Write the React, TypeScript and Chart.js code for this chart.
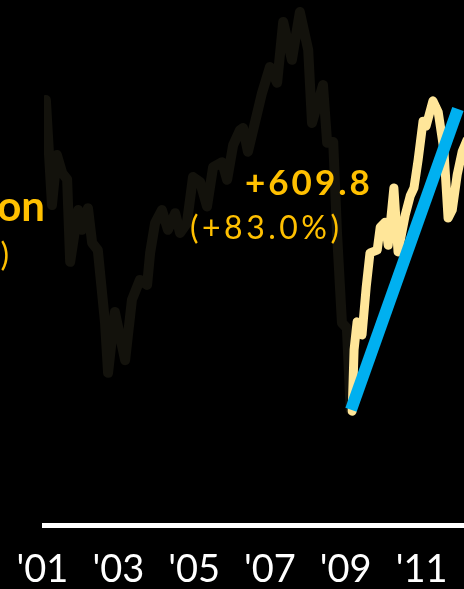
import React, { useEffect, useRef } from "react";
import { Chart, registerables } from "chart.js";

Chart.register(...registerables);

// Index level 2001–2009 (dark line)
const preYears = [
  2001.09, 2001.25, 2001.38, 2001.52, 2001.65, 2001.73, 2001.94, 2002.04, 2002.2, 2002.31,
  2002.46, 2002.65, 2002.73, 2002.91, 2003.18, 2003.36, 2003.57, 2003.76, 2003.84, 2003.97,
  2004.15, 2004.31, 2004.5, 2004.63, 2004.81, 2004.97, 2005.16, 2005.34, 2005.5, 2005.74,
  2005.87, 2006.03, 2006.21, 2006.29, 2006.42, 2006.79, 2007.0, 2007.19, 2007.35, 2007.58,
  2007.79, 2008.01, 2008.11, 2008.4, 2008.51, 2008.67, 2008.77, 2008.9, 2009.03, 2009.13,
];
const preValues = [
  1366, 1133, 1244, 1204, 1190, 1007, 1122, 1078, 1126, 1049,
  1033, 872, 761, 896, 789, 923, 967, 956, 1027, 1093,
  1122, 1078, 1115, 1071, 1093, 1195, 1184, 1130, 1217, 1228,
  1189, 1266, 1299, 1304, 1251, 1381, 1439, 1404, 1539, 1455,
  1561, 1477, 1315, 1399, 1271, 1273, 1071, 872, 860, 679,
];

// Recovery since the 2009 low (light yellow line)
const postYears = [
  2009.17, 2009.22, 2009.3, 2009.43, 2009.54, 2009.64, 2009.83, 2009.91, 2010.04, 2010.12,
  2010.27, 2010.38, 2010.57, 2010.7, 2010.8, 2010.91, 2011.04, 2011.12, 2011.3, 2011.44,
  2011.59, 2011.7, 2011.81, 2011.94, 2012.07, 2012.2,
];
const postValues = [
  676, 812, 874, 845, 951, 1027, 1033, 1084, 1095, 1044,
  1171, 1029, 1111, 1153, 1171, 1233, 1319, 1308, 1364, 1339,
  1255, 1104, 1122, 1200, 1251, 1277,
];

// Trend arrow (blue)
const trendYears = [2009.14, 2011.96];
const trendValues = [679, 1346];

const tickYears = [2001, 2003, 2005, 2007, 2009, 2011];
const tickLabels = ["'01", "'03", "'05", "'07", "'09", "'11"];

const gainLabel = "+609.8";
const gainPctLabel = "(+83.0%)";
const leftLabelTail = "on";
const leftPctTail = ")";

const toXY = (xs: number[], ys: number[]) => xs.map((x, i) => ({ x, y: ys[i] }));

const textPlugin = {
  id: "annotTexts",
  afterDatasetsDraw(chart: any) {
    const ctx = chart.ctx as CanvasRenderingContext2D;
    ctx.save();
    ctx.fillStyle = "#FFC000";
    ctx.textBaseline = "alphabetic";
    ctx.textAlign = "left";
    (ctx as any).letterSpacing = "3px";
    ctx.font = "bold 35px Lato";
    ctx.fillText(gainLabel, 245, 195);
    (ctx as any).letterSpacing = "3.5px";
    ctx.font = "32px Lato";
    ctx.fillText(gainPctLabel, 190, 239);
    (ctx as any).letterSpacing = "0px";
    ctx.textAlign = "right";
    ctx.font = "bold 42px Lato";
    ctx.fillText(leftLabelTail, 45, 221);
    ctx.font = "32px Lato";
    ctx.fillText(leftPctTail, 9, 266);
    ctx.restore();
  },
};

export default function App() {
  const ref = useRef<HTMLCanvasElement>(null);

  useEffect(() => {
    document.body.style.margin = "0";
    document.body.style.background = "#000";
    const canvas = ref.current!;
    const chart = new Chart(canvas, {
      type: "line",
      data: {
        datasets: [
          {
            data: toXY(trendYears, trendValues),
            borderColor: "#00B0F0",
            borderWidth: 12,
            borderCapStyle: "butt",
            pointRadius: 0,
            tension: 0,
          },
          {
            data: toXY(postYears, postValues),
            borderColor: "#FFE699",
            borderWidth: 9,
            borderCapStyle: "round",
            borderJoinStyle: "round",
            pointRadius: 0,
            tension: 0,
          },
          {
            data: toXY(preYears, preValues),
            borderColor: "#13120c",
            borderWidth: 10,
            borderCapStyle: "round",
            borderJoinStyle: "round",
            pointRadius: 0,
            tension: 0,
          },
        ],
      },
      options: {
        animation: false,
        responsive: false,
        maintainAspectRatio: false,
        events: [],
        layout: { padding: { left: 44, right: 0, top: 0, bottom: 0 } },
        plugins: { legend: { display: false }, tooltip: { enabled: false }, title: { display: false } },
        scales: {
          x: {
            type: "linear",
            min: 2001.04,
            max: 2012.12,
            afterBuildTicks: (s: any) => {
              s.ticks = tickYears.map((v) => ({ value: v }));
            },
            afterFit: (s: any) => {
              s.height = 63.5;
              s.paddingLeft = 0;
              s.paddingRight = 0;
            },
            ticks: {
              autoSkip: false,
              maxRotation: 0,
              color: "#ffffff",
              padding: 21,
              font: { family: "Lato", size: 38 },
              callback: (v: any) => {
                const i = tickYears.indexOf(Number(v));
                return i >= 0 ? tickLabels[i] : "";
              },
            },
            grid: { display: false, drawTicks: false },
            border: { display: true, color: "#ffffff", width: 5 },
          },
          y: {
            type: "linear",
            display: false,
            min: 422.5,
            max: 1587.6,
          },
        },
      },
      plugins: [textPlugin],
    });
    return () => chart.destroy();
  }, []);

  return (
    <div style={{ position: "fixed", left: 0, top: 0, width: 464, height: 589, background: "#000", overflow: "hidden" }}>
      <canvas ref={ref} width={464} height={589} style={{ display: "block", width: 464, height: 589 }} />
    </div>
  );
}
